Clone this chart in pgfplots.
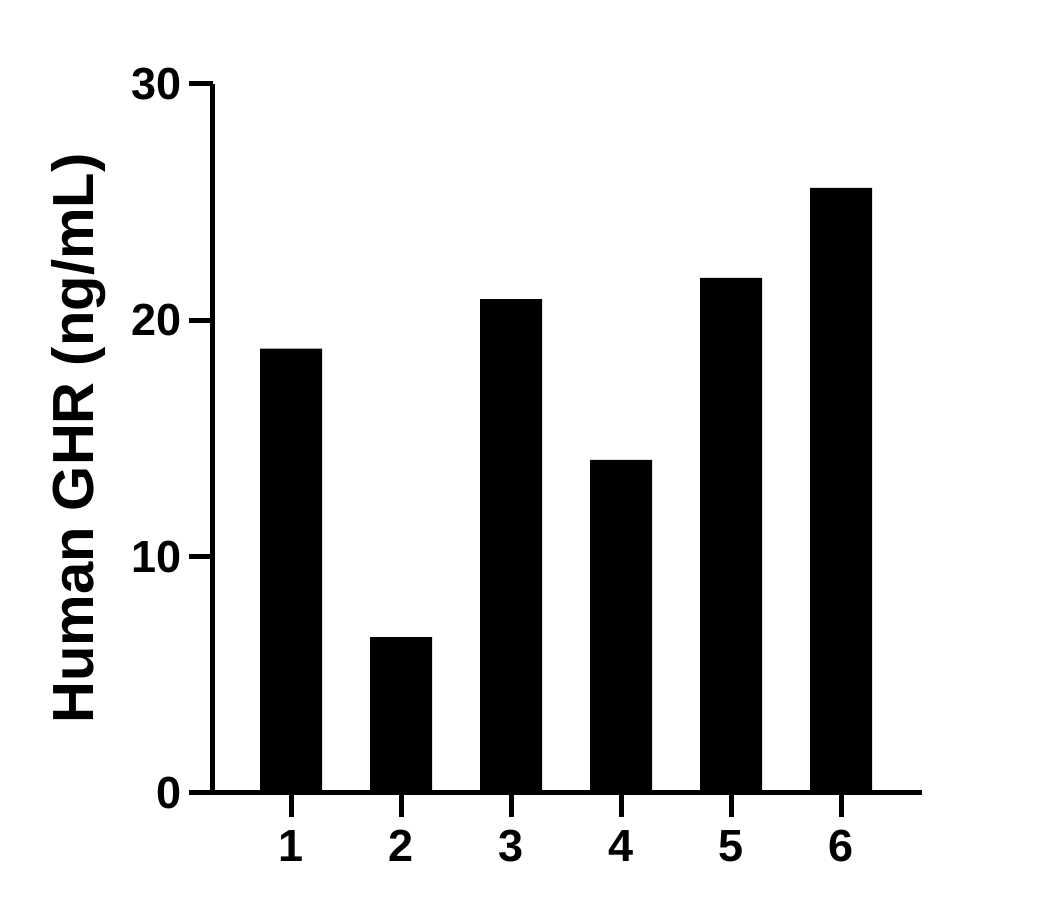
\documentclass[border=0pt]{standalone}
\usepackage{fontspec}
\setmainfont{Liberation Sans}
\usepackage{pgfplots}
\pgfplotsset{compat=1.18}
\begin{document}
\begin{tikzpicture}
\path[use as bounding box] (-106.5pt,-58.5pt) rectangle (421pt,396.5pt);
\begin{axis}[
  at={(0,0)}, anchor=origin,
  scale only axis,
  width=354.5pt, height=354.5pt,
  xmin=0.29, xmax=6.735,
  ymin=0, ymax=30,
  axis x line*=bottom, axis y line*=left,
  axis line style={line width=2.5pt, -},
  major tick style={line width=2.5pt, draw=black},
  major x tick style={line width=2.5pt, draw=black},
  major y tick style={line width=2.5pt, draw=black},
  major tick length=12pt,
  tick align=outside,
  xtick={1,2,3,4,5,6},
  ytick={0,10,20,30},
  /pgf/number format/assume math mode=true,
  ticklabel style={font=\bfseries\fontsize{22.5}{26}\selectfont},
  xticklabel style={yshift=-3pt},
  ylabel={Human GHR (ng/mL)},
  ylabel style={font=\bfseries\fontsize{29}{34}\selectfont, at={(axis description cs:-0.19,0.5)}, anchor=center},
  clip=false,
]
\addplot[ybar, bar width=31pt, fill=black, draw=none] coordinates {(1,18.8) (2,6.6) (3,20.9) (4,14.1) (5,21.8) (6,25.6)};
\end{axis}
\end{tikzpicture}
\end{document}
